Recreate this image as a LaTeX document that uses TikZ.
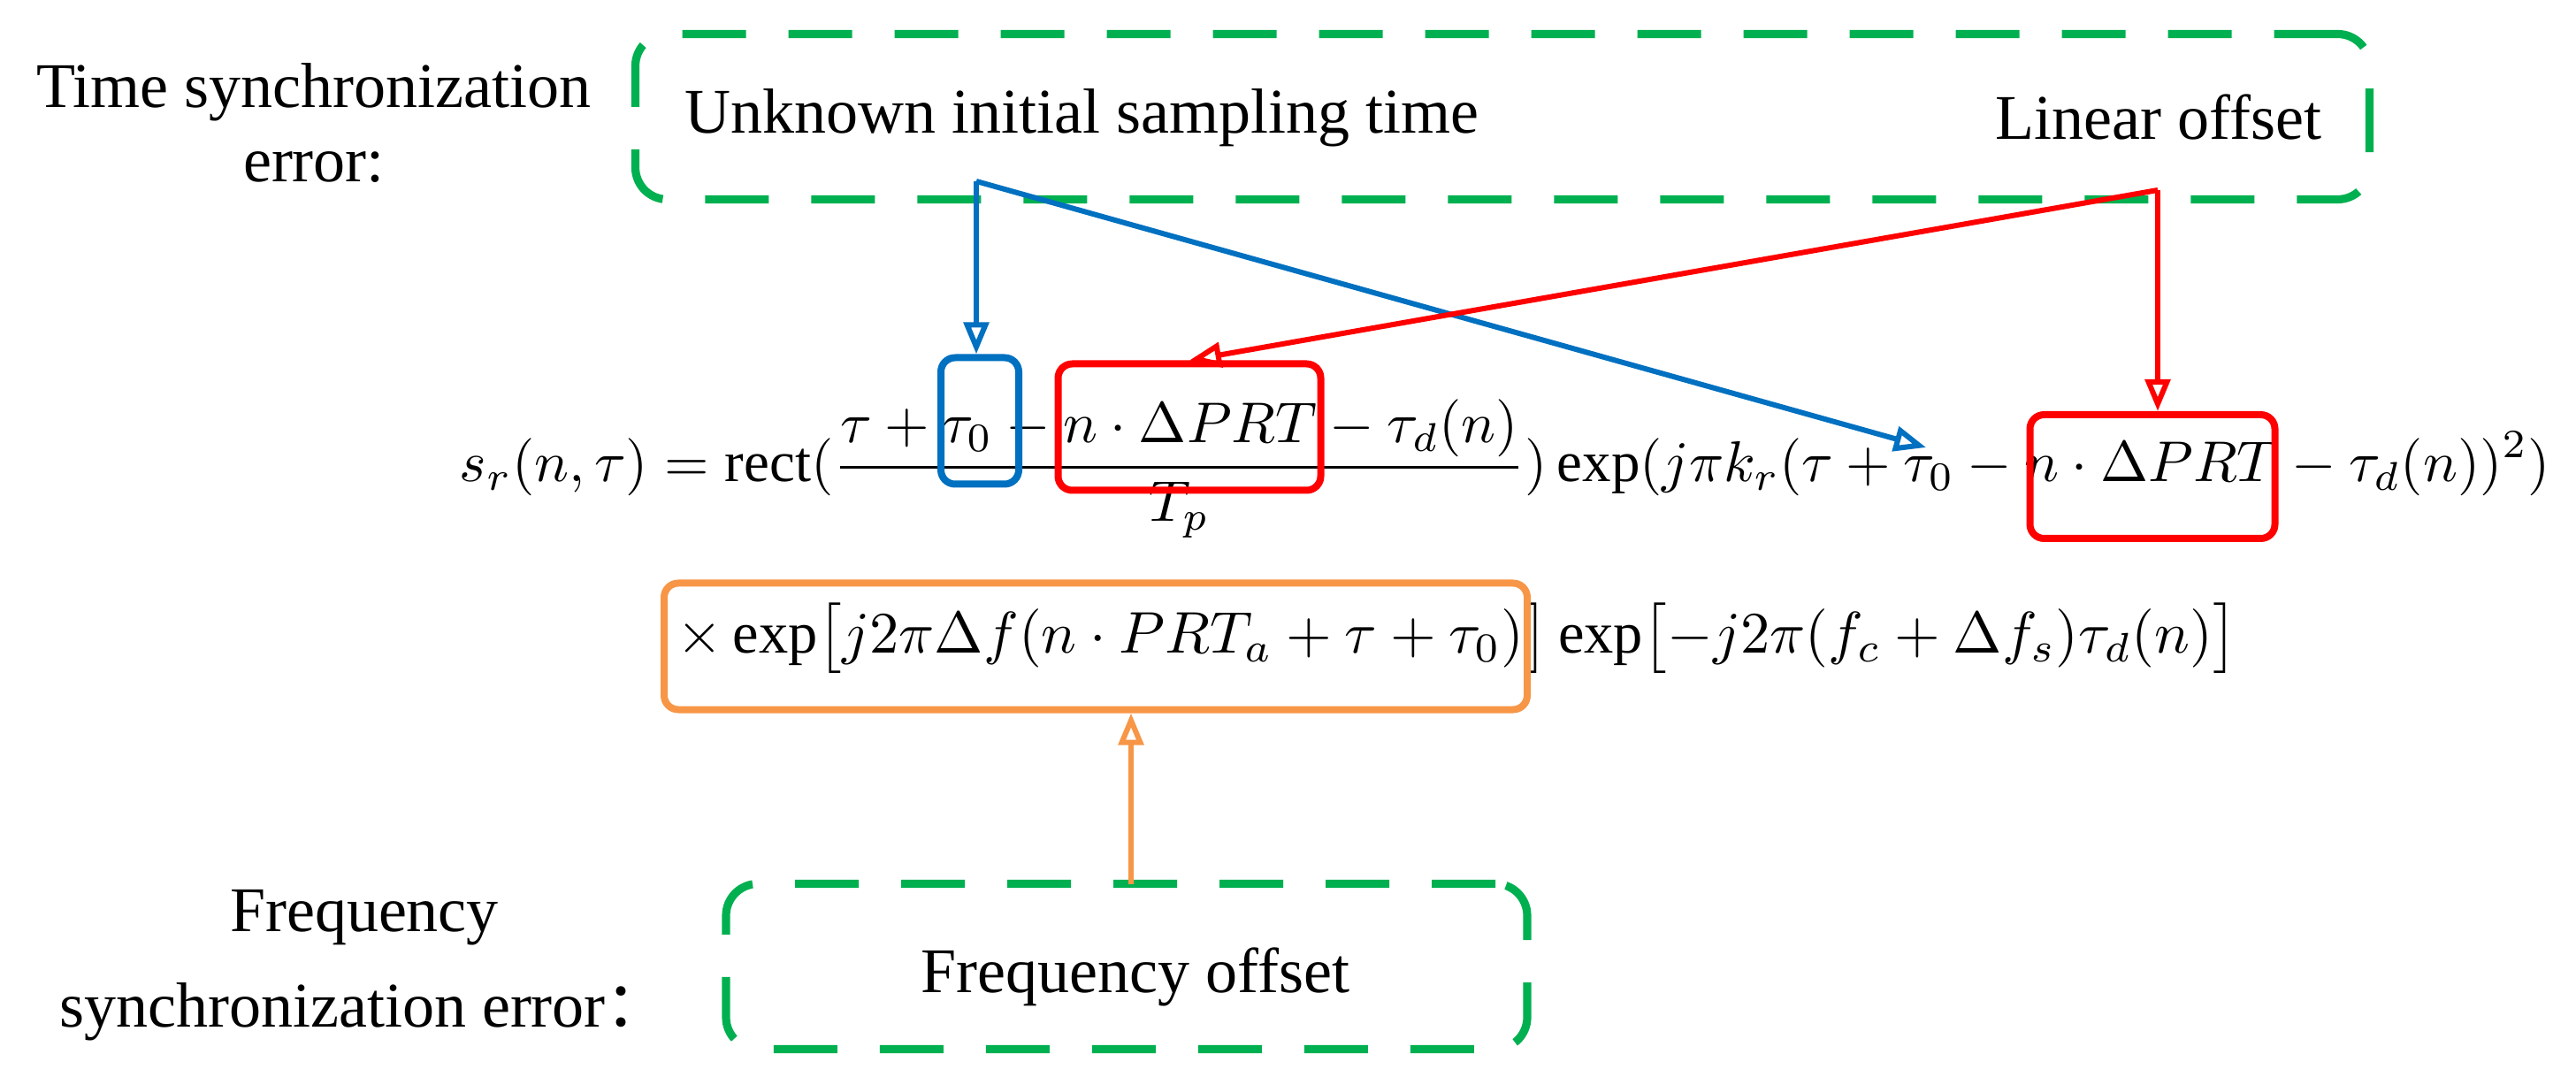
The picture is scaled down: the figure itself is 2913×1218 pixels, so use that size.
\documentclass[tikz,border=0pt]{standalone}
\usepackage{fontspec}
\setmainfont{Liberation Serif}
\newfontfamily\cjkf{Noto Sans CJK SC}
\usetikzlibrary{arrows.meta}
\definecolor{gr}{HTML}{00B050}
\definecolor{bl}{HTML}{0070C0}
\definecolor{rd}{HTML}{FF0000}
\definecolor{og}{HTML}{F79646}
\begin{document}
\begin{tikzpicture}[x=0.25pt,y=-0.25pt,
  txt/.style={font=\fontsize{18}{21}\selectfont,align=center,inner sep=0},
  gbox/.style={draw=gr,line width=2.3pt,dash pattern=on 18pt off 12pt,rounded corners=9pt},
  hbox/.style={line width=2pt,rounded corners=4pt,inner sep=0},
  arr/.style={line width=1.5pt,-{Triangle[open,length=9pt,width=7pt]}}]
\useasboundingbox (0,0) rectangle (2913,1218);
\node[gbox,minimum width=1961*0.25pt,minimum height=187*0.25pt] (tbox) at (1699,132) {};
\node[gbox,minimum width=906*0.25pt,minimum height=187*0.25pt] (fbox) at (1274,1093) {};
\node[txt] (tse) at (355,139) {Time synchronization\\error:};
\node[txt] (unk) at (1223,133) {Unknown initial sampling time};
\node[txt] (lin) at (2441,133) {Linear offset};
\node[txt] (fse) at (412,1092) {Frequency\\[6pt]synchronization error{\cjkf ：}};
\node[txt] (fo) at (1284,1105) {Frequency offset};
\node[inner sep=0] (eq1) at (1702,530) {\resizebox{591pt}{!}{$\displaystyle s_r(n,\tau)=\mathrm{rect}(\frac{\tau+\tau_0-n\cdot\Delta PRT-\tau_d(n)}{T_p})\exp(j\pi k_r(\tau+\tau_0-n\cdot\Delta PRT-\tau_d(n))^2)$}};
\node[inner sep=0] (eq2) at (1648,722) {\resizebox{441pt}{!}{$\times\exp\bigl[j2\pi\Delta f(n\cdot PRT_a+\tau+\tau_0)\bigr]\exp\bigl[-j2\pi(f_c+\Delta f_s)\tau_d(n)\bigr]$}};
\node[hbox,draw=bl,minimum width=88*0.25pt,minimum height=143*0.25pt] (b0) at (1108,476) {};
\node[hbox,draw=rd,minimum width=297*0.25pt,minimum height=143*0.25pt] (r1) at (1345,483) {};
\node[hbox,draw=rd,minimum width=277*0.25pt,minimum height=140*0.25pt] (r2) at (2434,539) {};
\node[hbox,draw=og,minimum width=976*0.25pt,minimum height=143*0.25pt] (ob) at (1239,731) {};
\coordinate (us) at (1104,205);
\coordinate (ls) at (2440,215);
\coordinate (k2) at (2178,506);
\coordinate (fs) at (1279,1000);
\draw[arr,bl] (us) -- (us |- b0.north);
\draw[arr,bl] (us) -- (k2);
\draw[arr,rd] (ls) -- (r1.north);
\draw[arr,rd] (ls) -- (ls |- r2.north);
\draw[arr,og] (fs) -- (fs |- ob.south);
\end{tikzpicture}
\end{document}
